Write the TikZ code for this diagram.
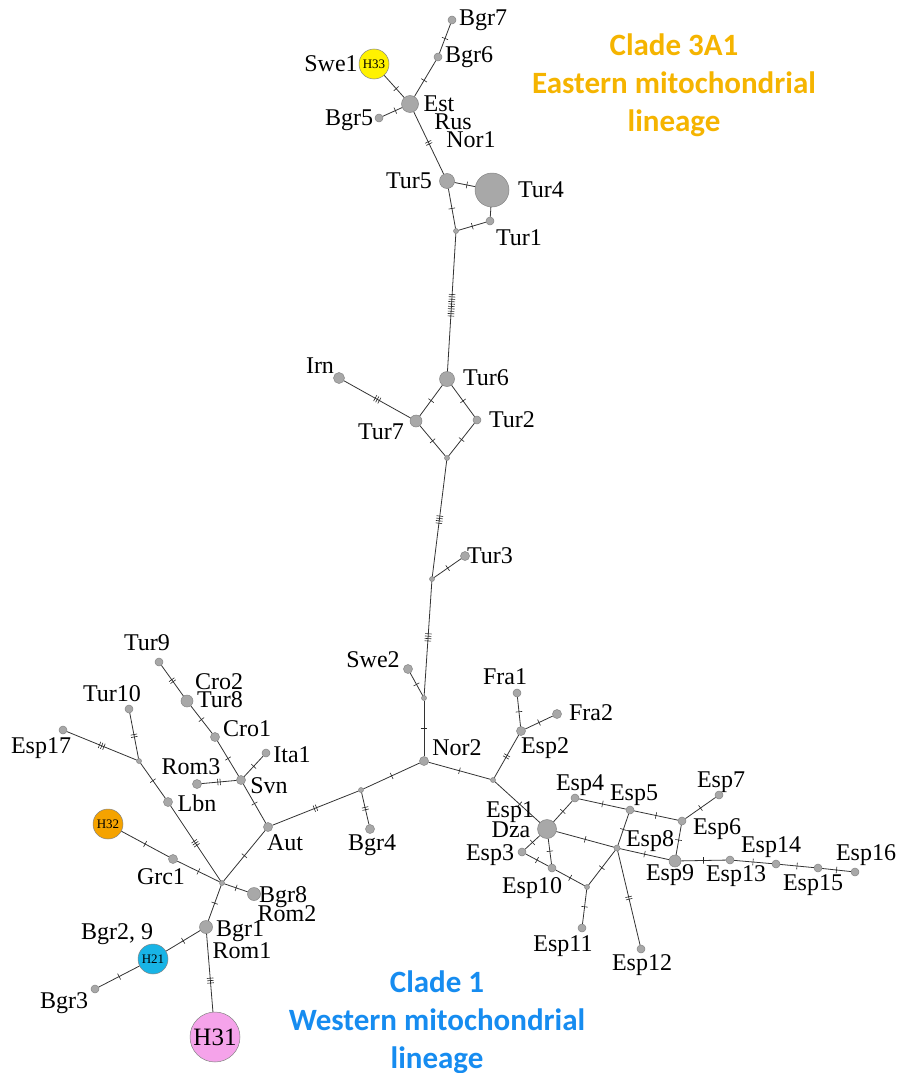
\documentclass[tikz,border=0pt]{standalone}
\usepackage{fontspec}
\setmainfont{Liberation Serif}
\newfontfamily\cladefont{Carlito}
\usetikzlibrary{decorations.markings}
\definecolor{hapgrey}{HTML}{A8A8A8}
\definecolor{hapedge}{HTML}{858585}
\definecolor{hyellow}{HTML}{FFF200}
\definecolor{horange}{HTML}{F5A300}
\definecolor{hblue}{HTML}{18B4E6}
\definecolor{hpink}{HTML}{F5A3EA}
\definecolor{cladeorange}{HTML}{F5B400}
\definecolor{cladeblue}{HTML}{168CF0}
\tikzset{
  hap/.style={circle,fill=hapgrey,draw=hapedge,line width=0.5pt,inner sep=0pt,minimum size=#1},
  hap/.default=8,
  lab/.style={font=\fontsize{24}{18}\selectfont,inner sep=0pt},
  edge/.style={line width=0.8pt,draw=black!80},
  tk/.style 2 args={postaction={decorate,decoration={markings,mark=at position #2 with {\foreach \k in {1,...,#1}{\draw[line width=0.6pt,black!85] ({(\k-(#1+1)/2)*2.4pt},-3.3pt)--({(\k-(#1+1)/2)*2.4pt},3.3pt);}}}}},
  clade/.style={align=center,font=\cladefont\bfseries\fontsize{31}{38}\selectfont,inner sep=0pt}
}
\begin{document}
\begin{tikzpicture}[x=1pt,y=-1pt]
\useasboundingbox (0,0) rectangle (898,1073);
% ---- nodes (Eastern part)
\node[hap=8] (Bgr7) at (452,20) {};
\node[hap=8] (Bgr6) at (438,57) {};
\node[hap=30,fill=hyellow,draw=hapedge,font=\fontsize{13}{13}\selectfont] (H33) at (374,64) {H33};
\node[hap=17] (Est) at (410,104) {};
\node[hap=8] (Bgr5) at (379,118) {};
\node[hap=15] (Tur5) at (447,181) {};
\node[hap=34] (Tur4) at (492,190) {};
\node[hap=8] (Tur1) at (490,221) {};
\node[hap=5] (j1) at (456,231) {};
\node[hap=15] (Tur6) at (447,379) {};
\node[hap=11] (Irn) at (339,378) {};
\node[hap=12] (Tur7) at (416,421) {};
\node[hap=8] (Tur2) at (477,420) {};
\node[hap=5] (j2) at (447,458) {};
\node[hap=5] (j3) at (432,579) {};
\node[hap=9] (Tur3) at (465,556) {};
\node[hap=5] (j4) at (424,698) {};
\node[hap=9] (Swe2) at (408,669) {};
\node[hap=9] (Nor2) at (424,761) {};
% ---- right part
\node[hap=5] (j5) at (493,780) {};
\node[hap=9] (Esp2) at (521,731) {};
\node[hap=8] (Fra1) at (517,693) {};
\node[hap=9] (Fra2) at (557,714) {};
\node[hap=19] (Dza) at (547,829) {};
\node[hap=8] (Esp4) at (575,798) {};
\node[hap=8] (Esp5) at (630,810) {};
\node[hap=8] (Esp6) at (682,821) {};
\node[hap=8] (Esp7) at (719,795) {};
\node[hap=6] (Esp8) at (617,848) {};
\node[hap=12] (Esp9) at (675,861) {};
\node[hap=8] (Esp3) at (522,852) {};
\node[hap=8] (Esp10) at (552,868) {};
\node[hap=5] (j6) at (587,887) {};
\node[hap=8] (Esp11) at (582,928) {};
\node[hap=8] (Esp12) at (641,949) {};
\node[hap=8] (Esp13) at (730,860) {};
\node[hap=8] (Esp14) at (776,864) {};
\node[hap=8] (Esp15) at (818,868) {};
\node[hap=8] (Esp16) at (855,872) {};
% ---- left part
\node[hap=5] (j7) at (361,790) {};
\node[hap=9] (Bgr4) at (370,829) {};
\node[hap=9] (Aut) at (268,827) {};
\node[hap=9] (Svn) at (241,780) {};
\node[hap=8] (Ita1) at (266,753) {};
\node[hap=9] (Rom3) at (197,784) {};
\node[hap=9] (Cro1) at (215,737) {};
\node[hap=12] (Tur8) at (187,701) {};
\node[hap=8] (Tur9) at (159,662) {};
\node[hap=5] (jL) at (139,761) {};
\node[hap=8] (Tur10) at (129,709) {};
\node[hap=8] (Esp17) at (63,730) {};
\node[hap=9] (Lbn) at (168,802) {};
\node[hap=5] (C) at (222,883) {};
\node[hap=30,fill=horange,draw=hapedge,font=\fontsize{13}{13}\selectfont] (H32) at (108,824) {H32};
\node[hap=9] (Grc1) at (173,859) {};
\node[hap=13] (Bgr8) at (254,894) {};
\node[hap=13] (Bgr1) at (206,927) {};
\node[hap=30,fill=hblue,draw=hapedge,font=\fontsize{13}{13}\selectfont] (H21) at (153,959) {H21};
\node[hap=8] (Bgr3) at (95,989) {};
\node[hap=50,fill=hpink,draw=hapedge,font=\fontsize{25}{25}\selectfont] (H31) at (215,1037) {H31};
% ---- edges
\draw[edge,tk={1}{0.5}] (Bgr7) -- (Bgr6);
\draw[edge,tk={1}{0.55}] (Bgr6) -- (Est);
\draw[edge,tk={1}{0.6}] (H33) -- (Est);
\draw[edge,tk={1}{0.65}] (Bgr5) -- (Est);
\draw[edge,tk={2}{0.5}] (Est) -- (Tur5);
\draw[edge,tk={1}{0.6}] (Tur5) -- (Tur4);
\draw[edge] (Tur4) -- (Tur1);
\draw[edge,tk={1}{0.5}] (Tur5) -- (j1);
\draw[edge,tk={1}{0.5}] (j1) -- (Tur1);
\draw[edge,tk={10}{0.52}] (j1) -- (Tur6);
\draw[edge,tk={3}{0.5}] (Irn) -- (Tur7);
\draw[edge,tk={1}{0.5}] (Tur6) -- (Tur7);
\draw[edge,tk={1}{0.5}] (Tur6) -- (Tur2);
\draw[edge,tk={1}{0.5}] (Tur7) -- (j2);
\draw[edge,tk={1}{0.5}] (Tur2) -- (j2);
\draw[edge,tk={4}{0.51}] (j2) -- (j3);
\draw[edge,tk={1}{0.5}] (j3) -- (Tur3);
\draw[edge,tk={4}{0.49}] (j3) -- (j4);
\draw[edge,tk={1}{0.5}] (j4) -- (Swe2);
\draw[edge,tk={1}{0.5}] (j4) -- (Nor2);
\draw[edge,tk={1}{0.5}] (Nor2) -- (j5);
\draw[edge,tk={2}{0.5}] (j5) -- (Esp2);
\draw[edge,tk={1}{0.5}] (Esp2) -- (Fra1);
\draw[edge,tk={1}{0.5}] (Esp2) -- (Fra2);
\draw[edge,tk={1}{0.55}] (j5) -- (Dza);
\draw[edge,tk={1}{0.5}] (Dza) -- (Esp4);
\draw[edge,tk={1}{0.5}] (Esp4) -- (Esp5);
\draw[edge,tk={1}{0.5}] (Esp5) -- (Esp6);
\draw[edge,tk={1}{0.5}] (Esp6) -- (Esp7);
\draw[edge,tk={1}{0.5}] (Esp6) -- (Esp9);
\draw[edge,tk={1}{0.5}] (Dza) -- (Esp8);
\draw[edge,tk={1}{0.5}] (Esp8) -- (Esp5);
\draw[edge,tk={1}{0.5}] (Esp8) -- (Esp9);
\draw[edge,tk={1}{0.5}] (Dza) -- (Esp3);
\draw[edge,tk={1}{0.5}] (Dza) -- (Esp10);
\draw[edge,tk={1}{0.5}] (Esp3) -- (Esp10);
\draw[edge,tk={1}{0.5}] (Esp10) -- (j6);
\draw[edge,tk={1}{0.5}] (j6) -- (Esp8);
\draw[edge,tk={1}{0.5}] (j6) -- (Esp11);
\draw[edge,tk={2}{0.5}] (Esp8) -- (Esp12);
\draw[edge,tk={1}{0.5}] (Esp9) -- (Esp13);
\draw[edge,tk={1}{0.5}] (Esp13) -- (Esp14);
\draw[edge,tk={1}{0.5}] (Esp14) -- (Esp15);
\draw[edge,tk={1}{0.5}] (Esp15) -- (Esp16);
\draw[edge,tk={1}{0.5}] (Nor2) -- (j7);
\draw[edge,tk={2}{0.5}] (j7) -- (Bgr4);
\draw[edge,tk={2}{0.5}] (Aut) -- (j7);
\draw[edge,tk={1}{0.5}] (Aut) -- (Svn);
\draw[edge,tk={1}{0.5}] (Svn) -- (Ita1);
\draw[edge,tk={2}{0.5}] (Svn) -- (Rom3);
\draw[edge,tk={1}{0.5}] (Svn) -- (Cro1);
\draw[edge,tk={1}{0.5}] (Cro1) -- (Tur8);
\draw[edge,tk={2}{0.5}] (Tur8) -- (Tur9);
\draw[edge,tk={2}{0.5}] (jL) -- (Tur10);
\draw[edge,tk={3}{0.5}] (jL) -- (Esp17);
\draw[edge,tk={1}{0.5}] (jL) -- (Lbn);
\draw[edge,tk={3}{0.5}] (Lbn) -- (C);
\draw[edge,tk={1}{0.5}] (H32) -- (Grc1);
\draw[edge,tk={1}{0.5}] (Grc1) -- (C);
\draw[edge,tk={1}{0.5}] (Aut) -- (C);
\draw[edge,tk={1}{0.5}] (C) -- (Bgr8);
\draw[edge,tk={1}{0.5}] (C) -- (Bgr1);
\draw[edge,tk={1}{0.5}] (Bgr1) -- (H21);
\draw[edge,tk={1}{0.5}] (H21) -- (Bgr3);
\draw[edge,tk={3}{0.6}] (Bgr1) -- (H31);
% ---- labels
\node[lab] (lBgr7) at (483,20) {Bgr7};
\node[lab] (lBgr6) at (469,57) {Bgr6};
\node[lab] (lSwe1) at (331,64) {Swe1};
\node[lab] (lEst) at (439,104) {Est};
\node[lab] (lRus) at (453,122) {Rus};
\node[lab] (lNor1) at (471,140) {Nor1};
\node[lab] (lBgr5) at (349,120) {Bgr5};
\node[lab] (lTur5) at (409,181) {Tur5};
\node[lab] (lTur4) at (541,190) {Tur4};
\node[lab] (lTur1) at (519,238) {Tur1};
\node[lab] (lTur6) at (486,378) {Tur6};
\node[lab] (lIrn) at (320,366) {Irn};
\node[lab] (lTur7) at (381,432) {Tur7};
\node[lab] (lTur2) at (512,420) {Tur2};
\node[lab] (lTur3) at (490,556) {Tur3};
\node[lab] (lSwe2) at (373,660) {Swe2};
\node[lab] (lNor2) at (457,748) {Nor2};
\node[lab] (lFra1) at (505,677) {Fra1};
\node[lab] (lFra2) at (591,713) {Fra2};
\node[lab] (lEsp2) at (545,748) {Esp2};
\node[lab] (lEsp1) at (510,812) {Esp1};
\node[lab] (lDza) at (511,830) {Dza};
\node[lab] (lEsp4) at (580,785) {Esp4};
\node[lab] (lEsp5) at (634,795) {Esp5};
\node[lab] (lEsp7) at (721,782) {Esp7};
\node[lab] (lEsp6) at (717,829) {Esp6};
\node[lab] (lEsp8) at (650,841) {Esp8};
\node[lab] (lEsp9) at (670,875) {Esp9};
\node[lab] (lEsp3) at (490,855) {Esp3};
\node[lab] (lEsp10) at (532,888) {Esp10};
\node[lab] (lEsp11) at (563,946) {Esp11};
\node[lab] (lEsp12) at (642,965) {Esp12};
\node[lab] (lEsp13) at (736,876) {Esp13};
\node[lab] (lEsp14) at (771,847) {Esp14};
\node[lab] (lEsp15) at (813,885) {Esp15};
\node[lab] (lEsp16) at (866,855) {Esp16};
\node[lab] (lBgr4) at (372,845) {Bgr4};
\node[lab] (lAut) at (285,843) {Aut};
\node[lab] (lSvn) at (269,786) {Svn};
\node[lab] (lIta1) at (292,755) {Ita1};
\node[lab] (lRom3) at (191,767) {Rom3};
\node[lab] (lCro1) at (247,729) {Cro1};
\node[lab] (lCro2) at (219,682) {Cro2};
\node[lab] (lTur8) at (220,700) {Tur8};
\node[lab] (lTur9) at (147,643) {Tur9};
\node[lab] (lTur10) at (112,694) {Tur10};
\node[lab] (lEsp17) at (41,748) {Esp17};
\node[lab] (lLbn) at (197,803) {Lbn};
\node[lab] (lGrc1) at (161,877) {Grc1};
\node[lab] (lBgr8) at (283,897) {Bgr8};
\node[lab] (lRom2) at (287,914) {Rom2};
\node[lab] (lBgr1) at (240,931) {Bgr1};
\node[lab] (lRom1) at (242,951) {Rom1};
\node[lab] (lBgr29) at (117,934) {Bgr2, 9};
\node[lab] (lBgr3) at (64,1003) {Bgr3};
% ---- clade labels
\node[clade,text=cladeorange] (cladeE) at (674,85) {Clade 3A1\\Eastern mitochondrial\\lineage};
\node[clade,text=cladeblue] (cladeW) at (437,1022) {Clade 1\\Western mitochondrial\\lineage};
\end{tikzpicture}
\end{document}
